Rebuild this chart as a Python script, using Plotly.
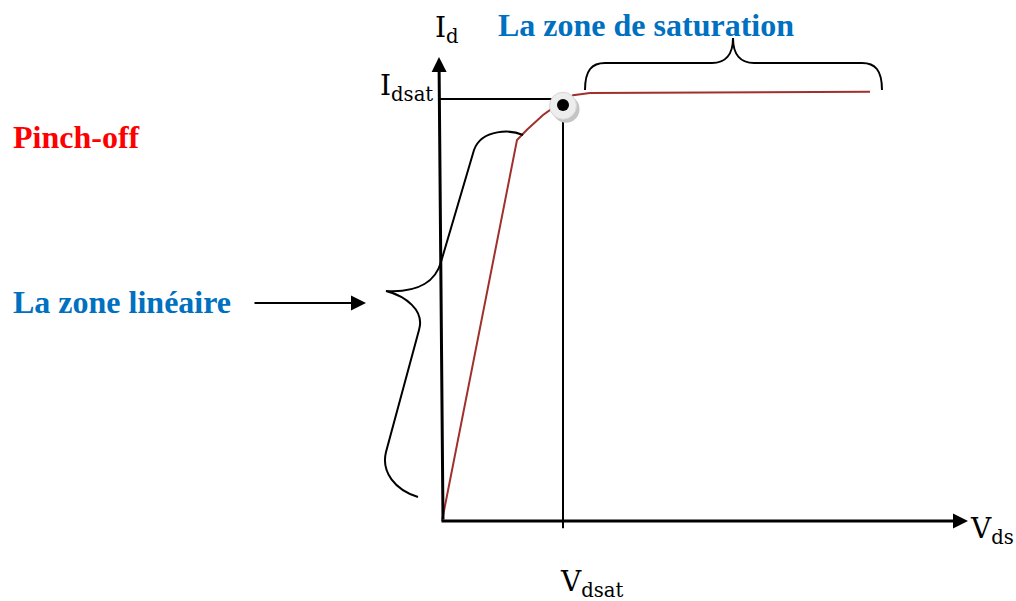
import plotly.graph_objects as go

# ---- data (Vds in units of Vdsat, Id in units of Idsat) ----
vds = [0.0, 0.620, 0.702, 0.835, 0.917, 1.0, 1.083, 1.223, 3.537]
id_ = [0.0, 0.903, 0.927, 0.962, 0.979, 0.995, 1.009, 1.014, 1.017]
vdsat = 1.0
idsat = 1.0
labels_math = {"id": "I<sub>d</sub>", "idsat": "I<sub>dsat</sub>",
               "vds": "V<sub>ds</sub>", "vdsat": "V<sub>dsat</sub>"}
label_pinch = "Pinch-off"
label_lin = "La zone linéaire"
label_sat = "La zone de saturation"

W, H = 1016, 601
X0, Y0, SX, SY = 442, 521, 121, 422  # pixel origin and pixels per unit

fig = go.Figure()

# saturation reference lines
fig.add_trace(go.Scatter(x=[-0.02, vdsat], y=[idsat, idsat], mode="lines",
                         line=dict(color="black", width=2), hoverinfo="skip"))
fig.add_trace(go.Scatter(x=[vdsat, vdsat], y=[-0.017, idsat], mode="lines",
                         line=dict(color="black", width=2), hoverinfo="skip"))
# characteristic curve
fig.add_trace(go.Scatter(x=vds, y=id_, mode="lines",
                         line=dict(color="#A0302C", width=2), hoverinfo="skip"))
# pinch-off point
fig.add_trace(go.Scatter(x=[vdsat + 0.025], y=[idsat - 0.024], mode="markers",
                         marker=dict(size=27, color="#c4c4c4", line=dict(width=0)), hoverinfo="skip"))
fig.add_trace(go.Scatter(x=[vdsat], y=[idsat - 0.016], mode="markers",
                         marker=dict(size=27, color="#ededed", line=dict(color="#d6d6d6", width=1)),
                         hoverinfo="skip"))
fig.add_trace(go.Scatter(x=[vdsat], y=[idsat - 0.014], mode="markers",
                         marker=dict(size=12, color="black"), hoverinfo="skip"))

# dummy trace for the overlay pixel axes
fig.add_trace(go.Scatter(x=[0], y=[0], mode="markers", marker=dict(opacity=0),
                         xaxis="x2", yaxis="y2", hoverinfo="skip"))

ann = []
# axes arrows (pixel overlay)
ann.append(dict(x=439, y=57, ax=443, ay=521, xref="x2", yref="y2", axref="x2", ayref="y2",
                text="", showarrow=True, arrowhead=2, arrowsize=1, arrowwidth=3, arrowcolor="black", standoff=0))
ann.append(dict(x=968, y=521, ax=440, ay=521, xref="x2", yref="y2", axref="x2", ayref="y2",
                text="", showarrow=True, arrowhead=2, arrowsize=1, arrowwidth=3, arrowcolor="black", standoff=0))
ann.append(dict(x=366, y=303, ax=253, ay=303, xref="x2", yref="y2", axref="x2", ayref="y2",
                text="", showarrow=True, arrowhead=2, arrowsize=1.5, arrowwidth=2, arrowcolor="black", standoff=0))

mfont = dict(family="DejaVu Serif", size=28, color="black")
ann.append(dict(x=433, y=29, xref="x2", yref="y2", text=labels_math["id"], showarrow=False,
                xanchor="left", yanchor="middle", font=mfont))
ann.append(dict(x=378, y=87, xref="x2", yref="y2", text=labels_math["idsat"], showarrow=False,
                xanchor="left", yanchor="middle", font=mfont))
ann.append(dict(x=968, y=530, xref="x2", yref="y2", text=labels_math["vds"], showarrow=False,
                xanchor="left", yanchor="middle", font=mfont))
ann.append(dict(x=558, y=583, xref="x2", yref="y2", text=labels_math["vdsat"], showarrow=False,
                xanchor="left", yanchor="middle", font=mfont))

bfont = dict(family="Liberation Serif, Times New Roman, serif", size=32)
ann.append(dict(x=11, y=137, xref="x2", yref="y2", text="<b>%s</b>" % label_pinch, showarrow=False,
                xanchor="left", yanchor="middle", font=dict(color="#FF0000", **bfont)))
ann.append(dict(x=11, y=302, xref="x2", yref="y2", text="<b>%s</b>" % label_lin, showarrow=False,
                xanchor="left", yanchor="middle", font=dict(color="#0070C0", **bfont)))
ann.append(dict(x=496, y=25, xref="x2", yref="y2", text="<b>%s</b>" % label_sat, showarrow=False,
                xanchor="left", yanchor="middle", font=dict(color="#0070C0", **bfont)))

shapes = [
    # saturation brace
    dict(type="path", xref="x2", yref="y2",
         path="M 585,90 C 585,70 592,63 605,63 L 712,63 C 725,63 733,55 733,38 "
              "C 733,55 741,63 754,63 L 862,63 C 875,63 882,70 882,90",
         line=dict(color="black", width=2)),
    # linear-zone brace
    dict(type="path", xref="x2", yref="y2",
         path="M 523,135 C 512,130 482,128 474,150 L 441,262 C 436,280 420,293 386,291 "
              "C 405,296 425,310 419,330 L 386,452 C 381,472 395,490 418,497",
         line=dict(color="black", width=2)),
]

fig.update_layout(
    width=W, height=H, margin=dict(l=0, r=0, t=0, b=0),
    paper_bgcolor="white", plot_bgcolor="white", showlegend=False,
    xaxis=dict(range=[-X0 / SX, (W - X0) / SX], visible=False, fixedrange=True),
    yaxis=dict(range=[(Y0 - H) / SY, Y0 / SY], visible=False, fixedrange=True),
    xaxis2=dict(range=[0, W], visible=False, overlaying="x", anchor="y2", fixedrange=True),
    yaxis2=dict(range=[H, 0], visible=False, overlaying="y", anchor="x2", fixedrange=True),
    annotations=ann, shapes=shapes,
)

fig.write_html("out.html", config={"displayModeBar": False},
               post_script="document.body.style.margin='0';document.body.style.overflow='hidden';")
